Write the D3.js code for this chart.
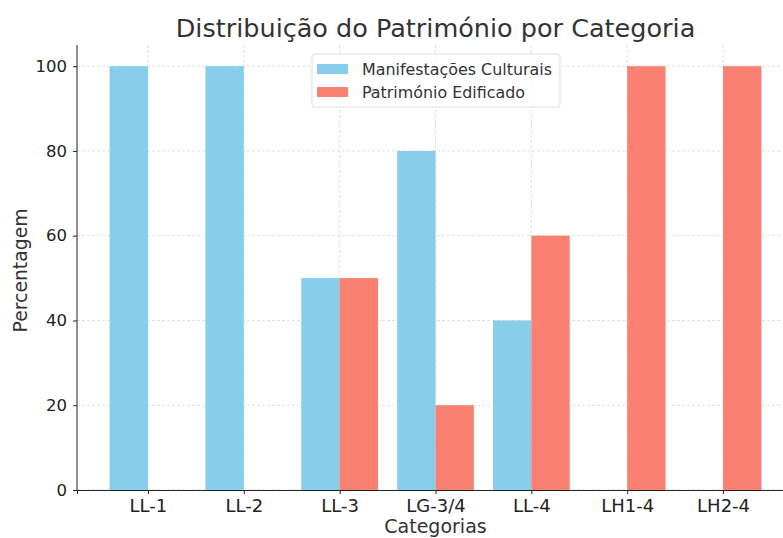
<!DOCTYPE html>
<html>
<head>
<meta charset="utf-8">
<script src="https://cdn.jsdelivr.net/npm/d3@7"></script>
<style>
  body { margin: 0; background: #fff; }
  svg { font-family: "DejaVu Sans", sans-serif; }
</style>
</head>
<body>
<svg id="chart" width="783" height="538"></svg>
<script>
// chart data
const categories = ["LL-1", "LL-2", "LL-3", "LG-3/4", "LL-4", "LH1-4", "LH2-4"];
const manifestacoes = [100, 100, 50, 80, 40, 0, 0];
const edificado = [0, 0, 50, 20, 60, 100, 100];
const seriesNames = ["Manifestações Culturais", "Património Edificado"];
const yTicks = [0, 20, 40, 60, 80, 100];

const colors = ["#87CEEB", "#FA8072"];
const series = [manifestacoes, edificado];

const svg = d3.select("#chart");
const pLeft = 77, pRight = 794, pTop = 45, pBottom = 490;

// x in category units, matplotlib-like margins
const x = d3.scaleLinear().domain([-0.74, 6.74]).range([pLeft, pRight]);
const y = d3.scaleLinear().domain([0, 105]).range([pBottom, pTop]);
const barW = 0.4;

// grid
const grid = svg.append("g");
grid.selectAll(".gy").data(yTicks).enter().append("line")
    .attr("x1", pLeft).attr("x2", pRight)
    .attr("y1", d => y(d)).attr("y2", d => y(d))
    .attr("stroke", "#d6d6d6").attr("stroke-width", 0.8)
    .attr("stroke-dasharray", "3,2");
grid.selectAll(".gx").data(categories).enter().append("line")
    .attr("x1", (d, i) => x(i)).attr("x2", (d, i) => x(i))
    .attr("y1", pTop).attr("y2", pBottom)
    .attr("stroke", "#d6d6d6").attr("stroke-width", 0.8)
    .attr("stroke-dasharray", "3,2");

// bars
series.forEach((vals, s) => {
    const off = s === 0 ? -barW : 0;
    svg.append("g").selectAll("rect").data(vals).enter().append("rect")
        .attr("x", (d, i) => x(i + off))
        .attr("width", x(barW) - x(0))
        .attr("y", d => y(d))
        .attr("height", d => y(0) - y(d))
        .attr("fill", colors[s]);
});

// axes
const xAxis = svg.append("g")
    .attr("transform", `translate(0,${pBottom})`)
    .call(d3.axisBottom(x).tickValues(d3.range(categories.length))
        .tickFormat(i => categories[i]).tickSizeOuter(0).tickSize(4).tickPadding(5));
const yAxis = svg.append("g")
    .attr("transform", `translate(${pLeft},0)`)
    .call(d3.axisLeft(y).tickValues(yTicks).tickSizeOuter(0).tickSize(4).tickPadding(6));
[xAxis, yAxis].forEach(a => {
    a.select(".domain").attr("stroke", "#222").attr("stroke-width", 1);
    a.selectAll(".tick line").attr("stroke", "#222");
    a.selectAll(".tick text").attr("fill", "#222").style("font-family", "DejaVu Sans");
});
xAxis.selectAll(".tick text").style("font-size", "18px");
yAxis.selectAll(".tick text").style("font-size", "16.5px");
yAxis.select(".domain").attr("d", `M0,${pTop}V${pBottom}`);

// title and labels
svg.append("text").attr("x", (pLeft + pRight) / 2).attr("y", 37)
    .attr("text-anchor", "middle").attr("fill", "#333")
    .style("font-size", "25.5px").text("Distribuição do Património por Categoria");
svg.append("text").attr("x", (pLeft + pRight) / 2).attr("y", 533)
    .attr("text-anchor", "middle").attr("fill", "#333")
    .style("font-size", "19px").text("Categorias");
svg.append("text").attr("transform", `translate(27,${(pTop + pBottom) / 2 + 3}) rotate(-90)`)
    .attr("text-anchor", "middle").attr("fill", "#333")
    .style("font-size", "18.8px").text("Percentagem");

// legend
const lg = svg.append("g").attr("transform", "translate(312,54)");
lg.append("rect").attr("width", 248).attr("height", 53)
    .attr("fill", "#fff").attr("fill-opacity", 0.85)
    .attr("stroke", "#ddd").attr("rx", 3);
seriesNames.forEach((n, i) => {
    lg.append("rect").attr("x", 5).attr("y", 10 + i * 23)
        .attr("width", 31).attr("height", 10).attr("fill", colors[i]);
    lg.append("text").attr("x", 50).attr("y", 21 + i * 23)
        .attr("fill", "#333").style("font-size", "15.9px").text(n);
});
</script>
</body>
</html>
